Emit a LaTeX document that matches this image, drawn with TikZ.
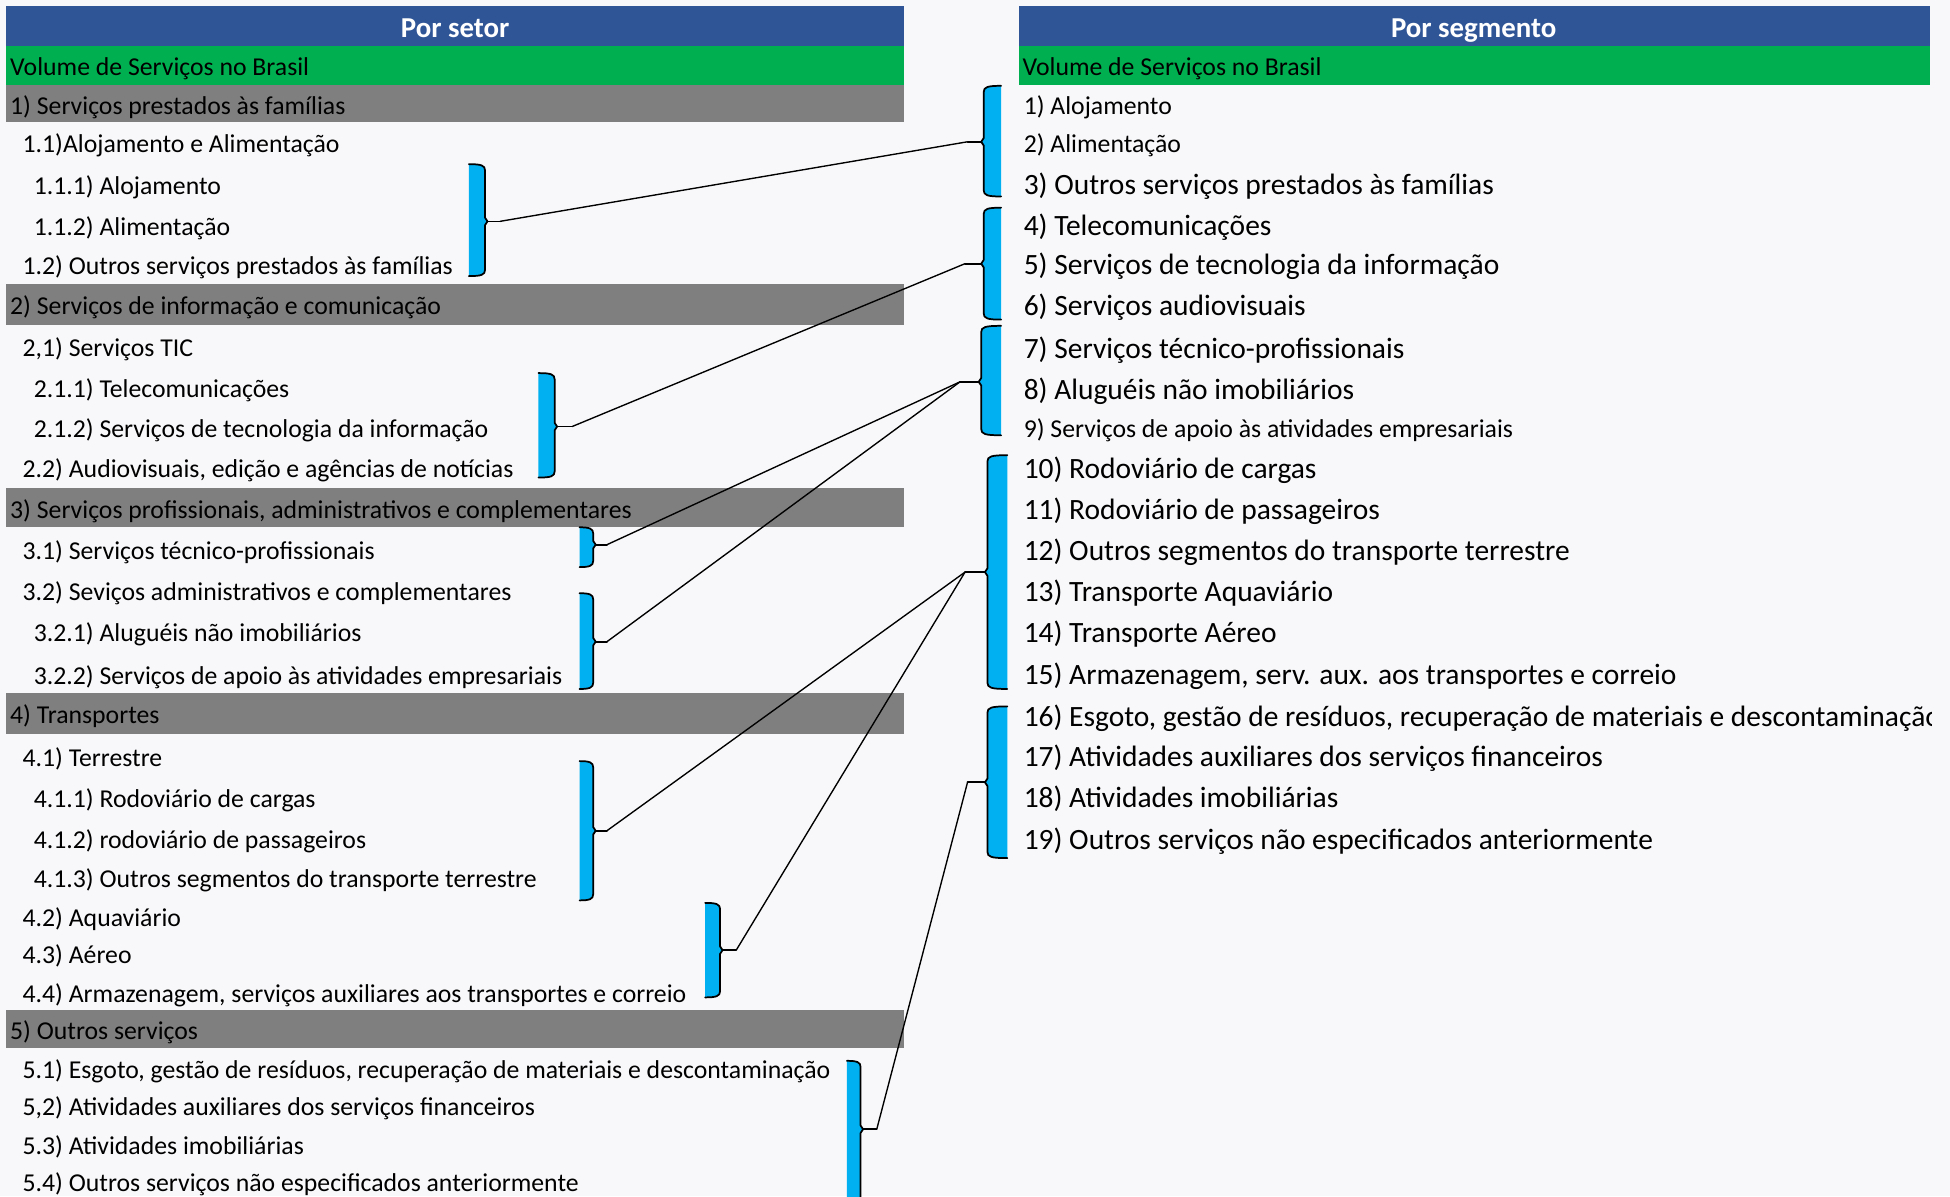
\documentclass[tikz,border=0pt]{standalone}
\usepackage{fontspec}
\setmainfont{Carlito}
\definecolor{bgc}{RGB}{248,248,250}
\definecolor{hdrblue}{HTML}{2F5597}
\definecolor{grn}{HTML}{00B050}
\definecolor{gry}{HTML}{7F7F7F}
\definecolor{brkblue}{HTML}{00B0F0}
\newcommand{\LBrk}[7]{%
 \fill[brk] (#1,#3) .. controls (#2-3,#3) and (#2,#3+1) .. (#2,#3+5) -- (#2,#5-3) -- (#2+2,#5) -- (#2,#5+3) -- (#2,#4-5) .. controls (#2,#4-1) and (#2-3,#4) .. (#1,#4) -- cycle;
 \draw[brkline] (#1,#3) .. controls (#2-3,#3) and (#2,#3+1) .. (#2,#3+5) -- (#2,#5-3) -- (#2+2,#5) -- (#2,#5+3) -- (#2,#4-5) .. controls (#2,#4-1) and (#2-3,#4) .. (#1,#4);
 \draw[brkline] (#2+2,#5) -- (#7,#5) coordinate (#6);}
\newcommand{\RBrk}[7]{%
 \fill[brk] (#2,#3) .. controls (#1+3,#3) and (#1,#3+1) .. (#1,#3+5) -- (#1,#5-3) -- (#1-2,#5) -- (#1,#5+3) -- (#1,#4-5) .. controls (#1,#4-1) and (#1+3,#4) .. (#2,#4) -- cycle;
 \draw[brkline] (#2,#3) .. controls (#1+3,#3) and (#1,#3+1) .. (#1,#3+5) -- (#1,#5-3) -- (#1-2,#5) -- (#1,#5+3) -- (#1,#4-5) .. controls (#1,#4-1) and (#1+3,#4) .. (#2,#4);
 \draw[brkline] (#1-2,#5) -- (#7,#5) coordinate (#6);}
\begin{document}
\begin{tikzpicture}[x=1pt,y=-1pt,
  lt/.style={anchor=west, inner sep=0pt, yshift=-5pt, text height=0.7em, text depth=0.1em, font=\fontsize{20.7}{24}\selectfont},
  rt/.style={anchor=west, inner sep=0pt, yshift=-5pt, text height=0.7em, text depth=0.1em, font=\fontsize{23.7}{27}\selectfont},
  hdr/.style={inner sep=0pt, yshift=-6pt, text=white, text height=0.7em, text depth=0.1em, font=\bfseries\fontsize{23.2}{26}\selectfont},
  brk/.style={fill=brkblue},
  brkline/.style={draw=black, line width=1.4pt, line join=round, line cap=round},
  conn/.style={draw=black, line width=1.1pt}]
\fill[bgc] (0,0) rectangle (1568,962);
\useasboundingbox (0,0) rectangle (1568,962);
\clip (0,0) rectangle (1568,962);
% left panel bars
\fill[hdrblue] (5,5) rectangle (727,37);
\fill[grn] (5,37) rectangle (727,68);
\fill[gry] (5,68) rectangle (727,98);
\fill[gry] (5,228) rectangle (727,261);
\fill[gry] (5,392) rectangle (727,424);
\fill[gry] (5,557) rectangle (727,590);
\fill[gry] (5,812) rectangle (727,843);
% right panel bars
\fill[hdrblue] (819,5) rectangle (1552,37);
\fill[grn] (819,37) rectangle (1552,68);
% headers
\node[hdr] (hl) at (366,21) {Por setor};
\node[hdr] (hr) at (1185,21) {Por segmento};
% left texts
\node[lt] (lv) at (8,53) {Volume de Serviços no Brasil};
\node[lt] (g1) at (8,84) {1) Serviços prestados às famílias};
\node[lt] (a11) at (18,115) {1.1)Alojamento e Alimentação};
\node[lt] (a111) at (27,148) {1.1.1) Alojamento};
\node[lt] (a112) at (27,181) {1.1.2) Alimentação};
\node[lt] (a12) at (18,213) {1.2) Outros serviços prestados às famílias};
\node[lt] (g2) at (8,245) {2) Serviços de informação e comunicação};
\node[lt] (b21) at (18,279) {2,1) Serviços TIC};
\node[lt] (b211) at (27,312) {2.1.1) Telecomunicações};
\node[lt] (b212) at (27,344) {2.1.2) Serviços de tecnologia da informação};
\node[lt] (b22) at (18,376) {2.2) Audiovisuais, edição e agências de notícias};
\node[lt] (g3) at (8,409) {3) Serviços profissionais, administrativos e complementares};
\node[lt] (c31) at (18,442) {3.1) Serviços técnico-profissionais};
\node[lt] (c32) at (18,475) {3.2) Seviços administrativos e complementares};
\node[lt] (c321) at (27,508) {3.2.1) Aluguéis não imobiliários};
\node[lt] (c322) at (27,542) {3.2.2) Serviços de apoio às atividades empresariais};
\node[lt] (g4) at (8,574) {4) Transportes};
\node[lt] (d41) at (18,608) {4.1) Terrestre};
\node[lt] (d411) at (27,641) {4.1.1) Rodoviário de cargas};
\node[lt] (d412) at (27,674) {4.1.2) rodoviário de passageiros};
\node[lt] (d413) at (27,706) {4.1.3) Outros segmentos do transporte terrestre};
\node[lt] (d42) at (18,737) {4.2) Aquaviário};
\node[lt] (d43) at (18,767) {4.3) Aéreo};
\node[lt] (d44) at (18,798) {4.4) Armazenagem, serviços auxiliares aos transportes e correio};
\node[lt] (g5) at (8,828) {5) Outros serviços};
\node[lt] (e51) at (18,859) {5.1) Esgoto, gestão de resíduos, recuperação de materiais e descontaminação};
\node[lt] (e52) at (18,889) {5,2) Atividades auxiliares dos serviços financeiros};
\node[lt] (e53) at (18,920) {5.3) Atividades imobiliárias};
\node[lt] (e54) at (18,950) {5.4) Outros serviços não especificados anteriormente};
% right texts
\node[lt] (rv) at (822,53) {Volume de Serviços no Brasil};
\node[lt] (r1) at (823,84) {1) Alojamento};
\node[lt] (r2) at (823,115) {2) Alimentação};
\node[rt] (r3) at (823,148) {3) Outros serviços prestados às famílias};
\node[rt] (r4) at (823,181) {4) Telecomunicações};
\node[rt] (r5) at (823,213) {5) Serviços de tecnologia da informação};
\node[rt] (r6) at (823,246) {6) Serviços audiovisuais};
\node[rt] (r7) at (823,280) {7) Serviços técnico-profissionais};
\node[rt] (r8) at (823,313) {8) Aluguéis não imobiliários};
\node[lt] (r9) at (823,344) {9) Serviços de apoio às atividades empresariais};
\node[rt] (r10) at (823,377) {10) Rodoviário de cargas};
\node[rt] (r11) at (823,410) {11) Rodoviário de passageiros};
\node[rt] (r12) at (823,443) {12) Outros segmentos do transporte terrestre};
\node[rt] (r13) at (823,476) {13) Transporte Aquaviário};
\node[rt] (r14) at (823,509) {14) Transporte Aéreo};
\node[rt] (r15) at (823,542) {15) Armazenagem, serv. aux. aos transportes e correio};
\begin{scope}
\clip (815,560) rectangle (1553,595);
\node[rt] (r16) at (823,576) {16) Esgoto, gestão de resíduos, recuperação de materiais e descontaminação};
\end{scope}
\node[rt] (r17) at (823,608) {17) Atividades auxiliares dos serviços financeiros};
\node[rt] (r18) at (823,641) {18) Atividades imobiliárias};
\node[rt] (r19) at (823,675) {19) Outros serviços não especificados anteriormente};
% brackets
\LBrk{377}{390}{132}{222}{178}{la}{402}
\LBrk{433}{446}{300}{384}{343}{lb}{460}
\LBrk{466}{477}{424}{456}{438}{lc}{488}
\LBrk{466}{477}{477}{554}{516}{ld}{488}
\LBrk{466}{477}{612}{724}{668}{le}{488}
\LBrk{567}{579}{726}{802}{764}{lf}{592}
\LBrk{681}{692}{853}{975}{908}{lg}{705}
\RBrk{791}{805}{69}{158}{114}{ra}{778}
\RBrk{791}{805}{167}{257}{212}{rb}{776}
\RBrk{789}{805}{262}{350}{307}{rc}{772}
\RBrk{794}{810}{366}{554}{460}{rd}{776}
\RBrk{794}{810}{568}{690}{629}{re}{778}
% connectors
\draw[conn] (la) -- (ra);
\draw[conn] (lb) -- (rb);
\draw[conn] (lc) -- (rc);
\draw[conn] (ld) -- (rc);
\draw[conn] (le) -- (rd);
\draw[conn] (lf) -- (rd);
\draw[conn] (lg) -- (re);
\end{tikzpicture}
\end{document}
